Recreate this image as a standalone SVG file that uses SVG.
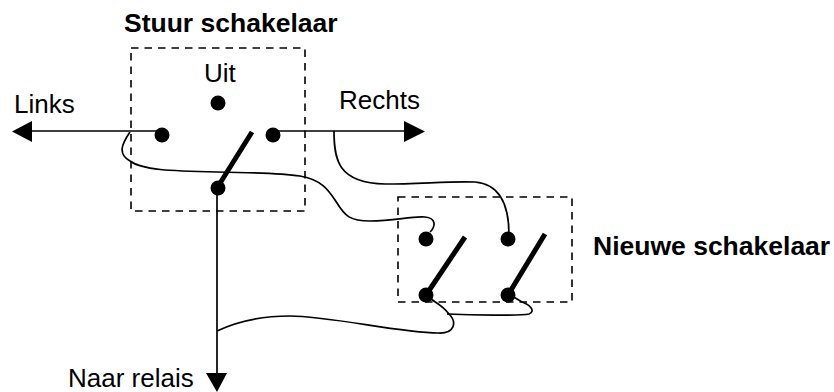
<svg xmlns="http://www.w3.org/2000/svg" width="834" height="392" viewBox="0 0 834 392">
<style>
text{font-family:"Liberation Sans",Arial,sans-serif;font-size:26px;fill:#000}
.b{font-weight:bold;font-size:26.500px}
.box{fill:none;stroke:#000;stroke-width:1.6;stroke-dasharray:7.5 6}
.w{fill:none;stroke:#000;stroke-width:1.7}
.lv{stroke:#000;stroke-width:5;fill:none}
.d{fill:#000}
</style>
<rect width="834" height="392" fill="#fff"/>
<g id="connectors">
<path class="w" d="M162,131H30"/>
<path d="M32,121L12,131.500L32,142Z"/>
<path class="w" d="M272,131H405"/>
<path d="M404,121L425,131.500L404,142Z"/>
<path class="w" d="M217,188V374"/>
<path d="M206,373L217,392L227,373Z"/>
<path class="w" d="M130,132C121,145 118,154 130,161C142,170 170,171 217,172C250,172.500 280,173 300,176C324,180 330,193 337,203C345,216 350,221 370,221C395,221 410,216 425,217C436,218 436,226 430,232"/>
<path class="w" d="M334,131C334,160 338,183 385,184C420,184 450,181 475,182C500,184 509,205 509,235"/>
<path class="w" d="M217,331C240,320 265,316 290,316C330,316 400,333 438,333C455,334 457,322 449,314C442,305 436,303 431,299"/>
<path class="w" d="M447,314C470,315 520,316 529,314C536,311 530,305 522,302L512,296"/>
</g>
<g id="stuur-schakelaar">
<rect class="box" x="131" y="48" width="174" height="163"/>
<text class="b" x="124" y="32">Stuur schakelaar</text>
<text x="204" y="82">Uit</text>
<circle class="d" cx="218" cy="103" r="7.500"/>
<circle class="d" cx="162" cy="135" r="7.500"/>
<circle class="d" cx="273" cy="135" r="7.500"/>
<circle class="d" cx="218" cy="188" r="7.500"/>
<path class="lv" d="M217,188L252,132"/>
</g>
<g id="nieuwe-schakelaar">
<rect class="box" x="398" y="197" width="174" height="105"/>
<text class="b" x="593" y="255">Nieuwe schakelaar</text>
<circle class="d" cx="426" cy="239" r="7.500"/>
<circle class="d" cx="508" cy="239" r="7.500"/>
<circle class="d" cx="426" cy="295" r="7.500"/>
<circle class="d" cx="508" cy="295" r="7.500"/>
<path class="lv" d="M426,295L465,237"/>
<path class="lv" d="M508,295L545,234"/>
</g>
<g id="labels">
<text x="14" y="113">Links</text>
<text x="339" y="109">Rechts</text>
<text x="68" y="387">Naar relais</text>
</g>
</svg>
